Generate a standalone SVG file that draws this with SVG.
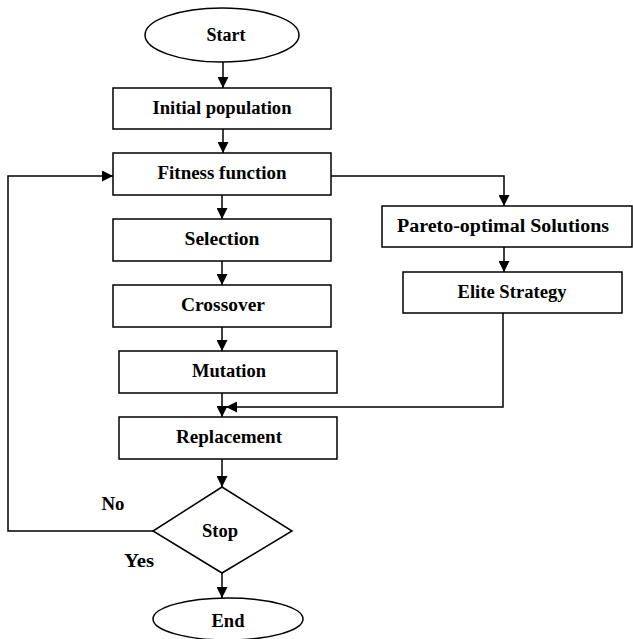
<svg xmlns="http://www.w3.org/2000/svg" width="633" height="639" viewBox="0 0 633 639">
<defs>
<marker id="arr" markerUnits="userSpaceOnUse" markerWidth="11" markerHeight="11" viewBox="0 0 10 10" refX="10" refY="5" orient="auto">
<path d="M0,0 L10,5 L0,10 z" fill="#000"/>
</marker>
<style>
.n{fill:#fff;stroke:#000;stroke-width:1.5}
.t{font-family:"Liberation Serif","Times New Roman",serif;font-weight:bold;font-size:18px;fill:#000;text-anchor:middle}
.c{fill:none;stroke:#000;stroke-width:1.5}
.a{marker-end:url(#arr)}
</style>
</defs>
<rect width="633" height="639" fill="#fff"/>
<g id="connectors">
<path class="c a" d="M223,62 V88"/>
<path class="c a" d="M223,129 V153"/>
<path class="c a" d="M222,195 V219"/>
<path class="c a" d="M222,261 V285"/>
<path class="c a" d="M222,327 V351"/>
<path class="c a" d="M222,393 V417"/>
<path class="c a" d="M503,313 V407 H226"/>
<path class="c a" d="M222,459 V487"/>
<path class="c a" d="M222,573 V598"/>
<path class="c a" d="M153,531 H8 V176 H113"/>
<path class="c a" d="M331,176 H504 V206"/>
<path class="c a" d="M504,247 V272"/>
</g>
<g id="start"><ellipse class="n" cx="222" cy="35" rx="77" ry="27"/><text class="t" x="226" y="41" textLength="39" lengthAdjust="spacingAndGlyphs">Start</text></g>
<g id="initial"><rect class="n" x="113" y="88" width="218" height="41"/><text class="t" x="222" y="114" textLength="139" lengthAdjust="spacingAndGlyphs">Initial population</text></g>
<g id="fitness"><rect class="n" x="113" y="153" width="218" height="42"/><text class="t" x="222" y="179" textLength="129" lengthAdjust="spacingAndGlyphs">Fitness function</text></g>
<g id="selection"><rect class="n" x="113" y="219" width="218" height="42"/><text class="t" x="222" y="245" textLength="75" lengthAdjust="spacingAndGlyphs">Selection</text></g>
<g id="crossover"><rect class="n" x="113" y="285" width="218" height="42"/><text class="t" x="223" y="311" textLength="84" lengthAdjust="spacingAndGlyphs">Crossover</text></g>
<g id="mutation"><rect class="n" x="119" y="351" width="218" height="42"/><text class="t" x="229" y="377" textLength="74" lengthAdjust="spacingAndGlyphs">Mutation</text></g>
<g id="replacement"><rect class="n" x="119" y="417" width="218" height="42"/><text class="t" x="229" y="443" textLength="106" lengthAdjust="spacingAndGlyphs">Replacement</text></g>
<g id="pareto"><rect class="n" x="382" y="206" width="250" height="41"/><text class="t" x="503" y="232" textLength="212" lengthAdjust="spacingAndGlyphs">Pareto-optimal Solutions</text></g>
<g id="elite"><rect class="n" x="403" y="272" width="219" height="41"/><text class="t" x="512" y="298" textLength="109" lengthAdjust="spacingAndGlyphs">Elite Strategy</text></g>
<g id="stop"><polygon class="n" points="222,487 292,531 222,573 153,531"/><text class="t" x="220" y="537" textLength="36" lengthAdjust="spacingAndGlyphs">Stop</text></g>
<g id="end"><ellipse class="n" cx="228" cy="619" rx="75" ry="21"/><text class="t" x="228" y="627" textLength="33" lengthAdjust="spacingAndGlyphs">End</text></g>
<g id="labels">
<text class="t" x="113" y="510" textLength="23" lengthAdjust="spacingAndGlyphs">No</text>
<text class="t" x="139" y="567" textLength="30" lengthAdjust="spacingAndGlyphs">Yes</text>
</g>
</svg>
